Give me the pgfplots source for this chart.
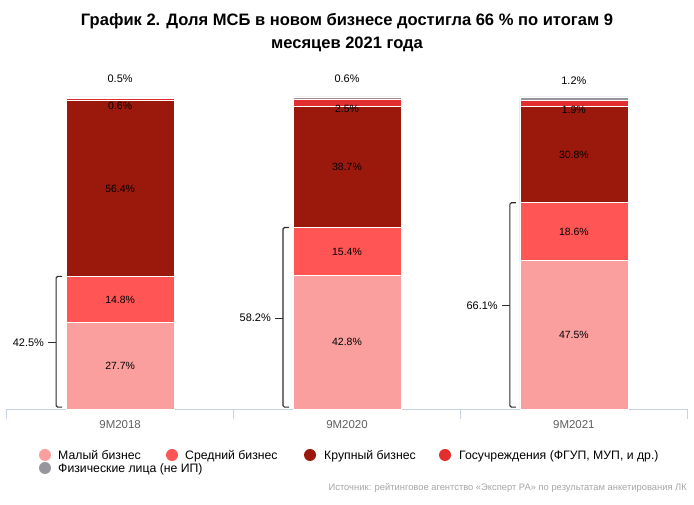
\documentclass[border=0pt]{standalone}
\usepackage{fontspec}
\setmainfont{Liberation Sans}
\usepackage{pgfplots}
\pgfplotsset{compat=1.18}
\definecolor{smallbiz}{RGB}{250,158,158}
\definecolor{midbiz}{RGB}{255,85,85}
\definecolor{bigbiz}{RGB}{155,25,12}
\definecolor{govorg}{RGB}{226,46,46}
\definecolor{persons}{RGB}{150,150,156}
\definecolor{axisline}{RGB}{200,210,230}
\definecolor{ticktext}{RGB}{95,95,95}
\definecolor{srctext}{RGB}{165,165,165}
\definecolor{bracecol}{RGB}{45,45,45}
\pgfplotsset{
  chartbox/.style={
    at={(6.7bp,96bp)}, anchor=south west,
    scale only axis, width=680.6bp, height=312bp,
    xmin=-0.5, xmax=2.5, ymin=0, ymax=100,
    clip=false,
  },
}

\begin{document}
\begin{tikzpicture}[x=1bp,y=1bp]
\path (0,0) rectangle (694,505);
\node[font=\bfseries\fontsize{16.6}{23}\selectfont, align=center] at (347,472)
  {График 2. Доля МСБ в новом бизнесе достигла 66~\% по итогам 9\\месяцев 2021 года};
\begin{axis}[
  chartbox,
  ybar stacked, bar width=108bp,
  axis x line*=bottom, axis y line=none,
  x axis line style={axisline, line width=0.8bp, -},
  xtick={0,1,2}, xticklabels={9M2018,9M2020,9M2021},
  major tick length=0pt,
  xticklabel style={ticktext, font=\fontsize{11.5}{13}\selectfont, anchor=north, yshift=-8bp},
  every axis plot/.append style={draw=white, line width=0.6bp},
]
% Малый бизнес
\addplot[fill=smallbiz] coordinates {(0,27.7) (1,42.8) (2,47.5)};
% Средний бизнес
\addplot[fill=midbiz] coordinates {(0,14.8) (1,15.4) (2,18.6)};
% Крупный бизнес
\addplot[fill=bigbiz] coordinates {(0,56.4) (1,38.7) (2,30.8)};
% Госучреждения
\addplot[fill=govorg] coordinates {(0,0.6) (1,2.5) (2,1.9)};
% Физические лица
\addplot[fill=persons] coordinates {(0,0.5) (1,0.6) (2,1.2)};
\end{axis}

% overlay with the same geometry for labels and brackets
\begin{axis}[chartbox, hide axis]
% separators under the axis line
\draw[axisline, line width=0.8bp] (axis cs:-0.5,0) -- ([yshift=-10bp]axis cs:-0.5,0);
\draw[axisline, line width=0.8bp] (axis cs:0.5,0) -- ([yshift=-10bp]axis cs:0.5,0);
\draw[axisline, line width=0.8bp] (axis cs:1.5,0) -- ([yshift=-10bp]axis cs:1.5,0);
\draw[axisline, line width=0.8bp] (axis cs:2.5,0) -- ([yshift=-10bp]axis cs:2.5,0);

% segment labels
\node[font=\fontsize{10.5}{12}\selectfont, inner sep=0pt] at (axis cs:0,13.85) {27.7\%};
\node[font=\fontsize{10.5}{12}\selectfont, inner sep=0pt] at (axis cs:0,35.1) {14.8\%};
\node[font=\fontsize{10.5}{12}\selectfont, inner sep=0pt] at (axis cs:0,70.7) {56.4\%};
\node[font=\fontsize{10.5}{12}\selectfont, inner sep=0pt] at (axis cs:0,97.2) {0.6\%};
\node[font=\fontsize{10.5}{12}\selectfont, inner sep=0pt] at (axis cs:1,21.4) {42.8\%};
\node[font=\fontsize{10.5}{12}\selectfont, inner sep=0pt] at (axis cs:1,50.5) {15.4\%};
\node[font=\fontsize{10.5}{12}\selectfont, inner sep=0pt] at (axis cs:1,77.55) {38.7\%};
\node[font=\fontsize{10.5}{12}\selectfont, inner sep=0pt] at (axis cs:1,96.1) {2.5\%};
\node[font=\fontsize{10.5}{12}\selectfont, inner sep=0pt] at (axis cs:2,23.75) {47.5\%};
\node[font=\fontsize{10.5}{12}\selectfont, inner sep=0pt] at (axis cs:2,56.8) {18.6\%};
\node[font=\fontsize{10.5}{12}\selectfont, inner sep=0pt] at (axis cs:2,81.5) {30.8\%};
\node[font=\fontsize{10.5}{12}\selectfont, inner sep=0pt] at (axis cs:2,95.8) {1.9\%};
\node[font=\fontsize{11}{13}\selectfont, inner sep=0pt] at (axis cs:0,105.8) {0.5\%};
\node[font=\fontsize{11}{13}\selectfont, inner sep=0pt] at (axis cs:1,105.8) {0.6\%};
\node[font=\fontsize{11}{13}\selectfont, inner sep=0pt] at (axis cs:2,105.3) {1.2\%};

% brackets for SME share
\draw[bracecol, line width=1.2bp, rounded corners=1.5bp]
  ([xshift=-4bp]axis cs:-0.238,42.5) -- ([xshift=-10bp]axis cs:-0.238,42.5)
  -- ([xshift=-10bp]axis cs:-0.238,0.6) -- ([xshift=-4bp]axis cs:-0.238,0.6);
\draw[bracecol, line width=1.2bp, rounded corners=1.5bp]
  ([xshift=-4bp]axis cs:0.762,58.2) -- ([xshift=-10bp]axis cs:0.762,58.2)
  -- ([xshift=-10bp]axis cs:0.762,0.6) -- ([xshift=-4bp]axis cs:0.762,0.6);
\draw[bracecol, line width=1.2bp, rounded corners=1.5bp]
  ([xshift=-4bp]axis cs:1.762,66.1) -- ([xshift=-10bp]axis cs:1.762,66.1)
  -- ([xshift=-10bp]axis cs:1.762,0.6) -- ([xshift=-4bp]axis cs:1.762,0.6);
\draw[bracecol, line width=1.2bp] ([xshift=-10bp]axis cs:-0.238,21.25) -- ([xshift=-18bp]axis cs:-0.238,21.25);
\draw[bracecol, line width=1.2bp] ([xshift=-10bp]axis cs:0.762,29.1) -- ([xshift=-18bp]axis cs:0.762,29.1);
\draw[bracecol, line width=1.2bp] ([xshift=-10bp]axis cs:1.762,33.05) -- ([xshift=-18bp]axis cs:1.762,33.05);
\node[font=\fontsize{11}{13}\selectfont, inner sep=0pt, anchor=east] at ([xshift=-22bp]axis cs:-0.238,21.25) {42.5\%};
\node[font=\fontsize{11}{13}\selectfont, inner sep=0pt, anchor=east] at ([xshift=-22bp]axis cs:0.762,29.1) {58.2\%};
\node[font=\fontsize{11}{13}\selectfont, inner sep=0pt, anchor=east] at ([xshift=-22bp]axis cs:1.762,33.05) {66.1\%};
\end{axis}

% legend
\fill[smallbiz] (45,50) circle (6);
\node[font=\fontsize{12.3}{14}\selectfont, anchor=base west, inner sep=0pt] at (58,45.6) {Малый бизнес};
\fill[midbiz] (172,50) circle (6);
\node[font=\fontsize{12.3}{14}\selectfont, anchor=base west, inner sep=0pt] at (185,45.6) {Средний бизнес};
\fill[bigbiz] (310,50) circle (6);
\node[font=\fontsize{12.3}{14}\selectfont, anchor=base west, inner sep=0pt] at (324,45.6) {Крупный бизнес};
\fill[govorg] (445,50) circle (6);
\node[font=\fontsize{12.3}{14}\selectfont, anchor=base west, inner sep=0pt] at (459,45.6) {Госучреждения (ФГУП, МУП, и др.)};
\fill[persons] (45,37) circle (6);
\node[font=\fontsize{12.3}{14}\selectfont, anchor=base west, inner sep=0pt] at (58,32.6) {Физические лица (не ИП)};
\node[font=\fontsize{9.4}{11}\selectfont, text=srctext, anchor=east, inner sep=0pt] at (687,17)
  {Источник: рейтинговое агентство «Эксперт РА» по результатам анкетирования ЛК};
\end{tikzpicture}
\end{document}
